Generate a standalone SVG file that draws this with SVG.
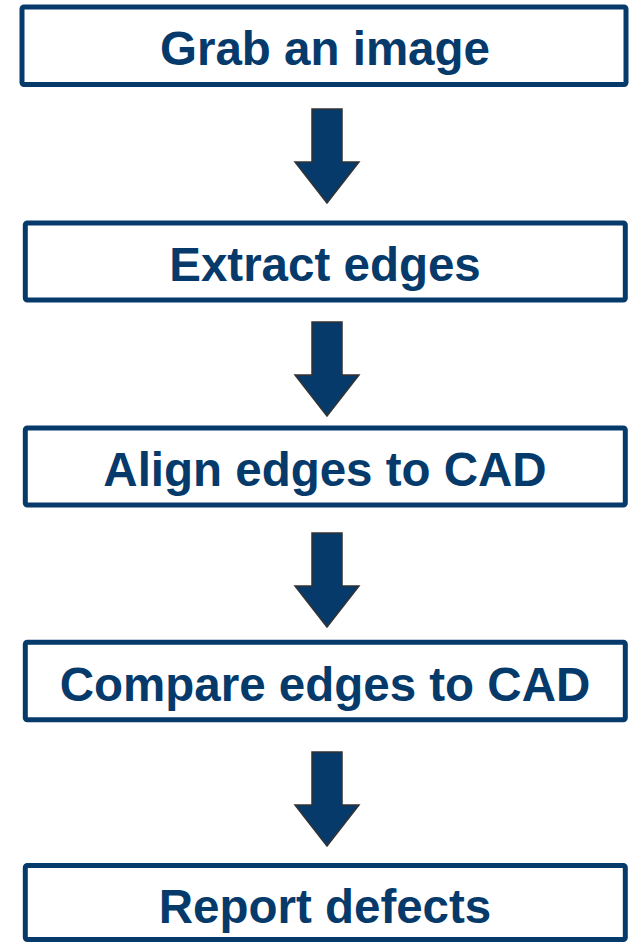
<svg xmlns="http://www.w3.org/2000/svg" width="634" height="942" viewBox="0 0 634 942">
  <style>
    .box { fill: #ffffff; stroke: #053a6b; stroke-width: 5; }
    .lbl { font-family: "Liberation Sans", Arial, sans-serif; font-weight: bold; font-size: 47.5px; fill: #053a6b; text-anchor: middle; }
    .arrow { fill: #053a6b; stroke: #333333; stroke-width: 1.5; stroke-linejoin: miter; }
  </style>
  <defs>
    <path id="downArrow" d="M -15 0 L 15 0 L 15 53 L 32 53 L 0 94 L -32 53 L -15 53 Z"/>
  </defs>
  <g id="connectors">
    <use href="#downArrow" class="arrow" x="327" y="109"/>
    <use href="#downArrow" class="arrow" x="327" y="322"/>
    <use href="#downArrow" class="arrow" x="327" y="533"/>
    <use href="#downArrow" class="arrow" x="327" y="752"/>
  </g>
  <g id="node1">
    <rect class="box" x="22" y="7" width="604" height="77.5" rx="2"/>
    <text class="lbl" x="325" y="65">Grab an image</text>
  </g>
  <g id="node2">
    <rect class="box" x="25.3" y="223" width="600" height="77" rx="2"/>
    <text class="lbl" x="325" y="281">Extract edges</text>
  </g>
  <g id="node3">
    <rect class="box" x="25.3" y="428" width="600" height="77" rx="2"/>
    <text class="lbl" x="325" y="486">Align edges to CAD</text>
  </g>
  <g id="node4">
    <rect class="box" x="25.3" y="642.3" width="600" height="77.4" rx="2"/>
    <text class="lbl" x="325" y="701">Compare edges to CAD</text>
  </g>
  <g id="node5">
    <rect class="box" x="25.3" y="865.5" width="600" height="74" rx="2"/>
    <text class="lbl" x="325" y="923">Report defects</text>
  </g>
</svg>
